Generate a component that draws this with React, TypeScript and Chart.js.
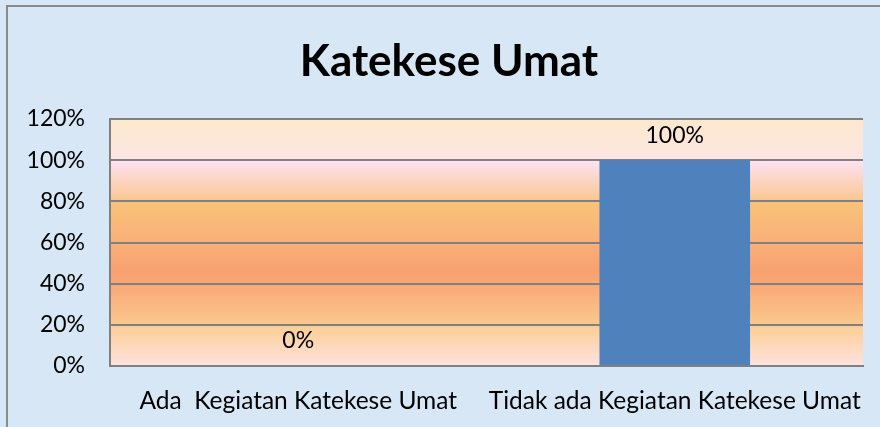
import { useEffect, useRef } from "react";
import { Chart, registerables } from "chart.js";

Chart.register(...registerables);

const chartTitle = "Katekese Umat";
const categories = ["Ada  Kegiatan Katekese Umat", "Tidak ada Kegiatan Katekese Umat"];
const values = [0, 1];
const valueLabels = ["0%", "100%"];
const yMin = 0;
const yMax = 1.2;
const yStep = 0.2;

const FONT = "Lato, 'Open Sans', sans-serif";

const decorPlugin = {
  id: "decor",
  beforeDraw(chart: any) {
    const { ctx, width, height, chartArea } = chart;
    ctx.save();
    ctx.fillStyle = "#d7e7f6";
    ctx.fillRect(0, 0, width, height);
    ctx.strokeStyle = "#8a8a8a";
    ctx.lineWidth = 2;
    ctx.strokeRect(7, 6, width + 20, height + 20);
    ctx.fillStyle = "#000000";
    ctx.font = `bold 44px ${FONT}`;
    ctx.textAlign = "center";
    ctx.textBaseline = "alphabetic";
    ctx.fillText(chartTitle, 449, 76);
    const { left, right, top, bottom } = chartArea;
    const g = ctx.createLinearGradient(0, top, 0, bottom);
    g.addColorStop(0, "#fce9cc");
    g.addColorStop(0.16, "#fde5e4");
    g.addColorStop(0.17, "#fde2f2");
    g.addColorStop(0.32, "#fbc896");
    g.addColorStop(0.34, "#fac278");
    g.addColorStop(0.5, "#f8b07a");
    g.addColorStop(0.62, "#f8a070");
    g.addColorStop(0.68, "#f9aa78");
    g.addColorStop(0.83, "#fbc88c");
    g.addColorStop(0.85, "#fcd09a");
    g.addColorStop(1, "#fde2e0");
    ctx.fillStyle = g;
    ctx.fillRect(left, top, right - left, bottom - top);
    ctx.restore();
  },
  afterDatasetsDraw(chart: any) {
    const { ctx } = chart;
    const meta = chart.getDatasetMeta(0);
    ctx.save();
    ctx.fillStyle = "#000000";
    ctx.font = `23px ${FONT}`;
    ctx.textAlign = "center";
    ctx.textBaseline = "middle";
    meta.data.forEach((bar: any, i: number) => {
      ctx.fillText(valueLabels[i], bar.x, bar.y - 25);
    });
    ctx.restore();
  },
};

export default function App() {
  const ref = useRef<HTMLCanvasElement | null>(null);
  useEffect(() => {
    if (!ref.current) return;
    const chart = new Chart(ref.current, {
      type: "bar",
      data: {
        labels: categories,
        datasets: [
          {
            data: values,
            backgroundColor: "#4f81bd",
            borderWidth: 0,
            barPercentage: 0.4,
            categoryPercentage: 1,
          },
        ],
      },
      options: {
        animation: false,
        responsive: false,
        maintainAspectRatio: false,
        layout: { padding: { top: 119, right: 17, left: 0, bottom: 0 } },
        plugins: {
          legend: { display: false },
          title: { display: false },
          tooltip: { enabled: false },
        },
        scales: {
          x: {
            grid: { display: false, drawTicks: false },
            border: { display: true, color: "#808080", width: 2 },
            ticks: {
              color: "#000000",
              font: { family: FONT, size: 24.5 },
              padding: 20,
              maxRotation: 0,
              autoSkip: false,
            },
            afterFit(scale: any) {
              scale.height = 61;
              scale.paddingLeft = 0;
              scale.paddingRight = 0;
            },
          },
          y: {
            min: yMin,
            max: yMax,
            grid: { color: "#808080", lineWidth: 2, drawTicks: false },
            border: { display: true, color: "#808080", width: 2 },
            ticks: {
              stepSize: yStep,
              color: "#000000",
              font: { family: FONT, size: 23 },
              padding: 25,
              callback: (v: any) => `${Math.round(Number(v) * 100)}%`,
            },
            afterFit(scale: any) {
              scale.width = 110;
              scale.paddingTop = 0;
              scale.paddingBottom = 0;
            },
          },
        },
      },
      plugins: [decorPlugin],
    });
    return () => chart.destroy();
  }, []);
  return (
    <div style={{ position: "absolute", left: 0, top: 0, width: 880, height: 427 }}>
      <canvas ref={ref} width={880} height={427} style={{ display: "block" }} />
    </div>
  );
}
